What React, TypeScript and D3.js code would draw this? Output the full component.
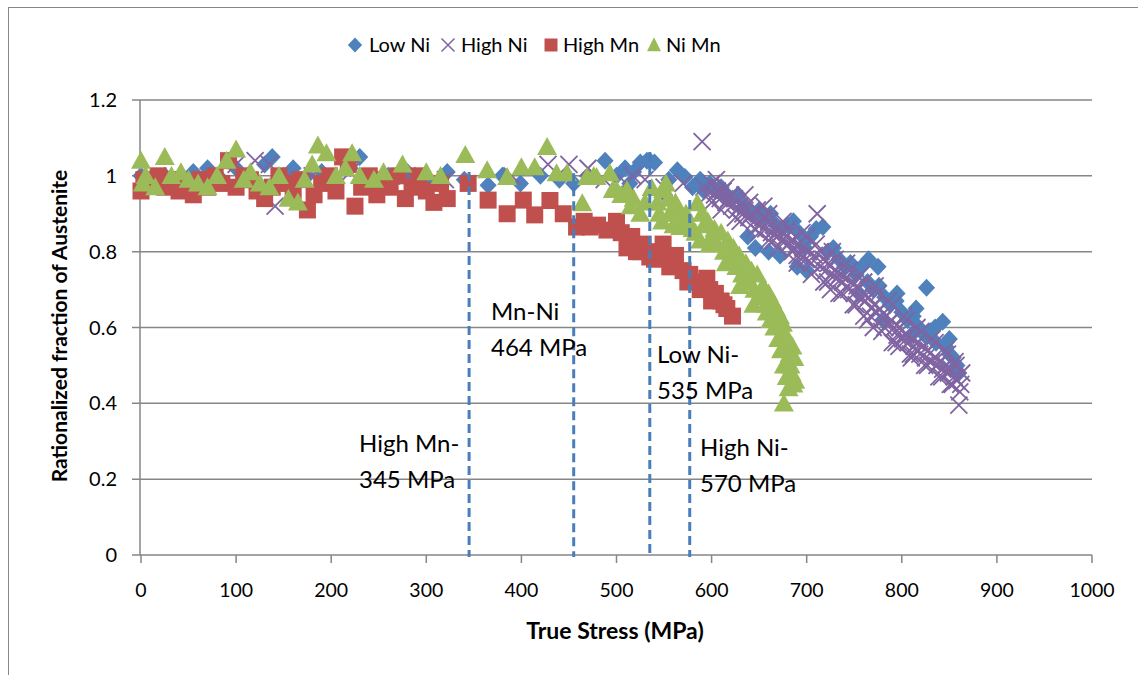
import React from "react";
import * as d3 from "d3";

// ---- axis ticks ----
const xTicks = [0, 100, 200, 300, 400, 500, 600, 700, 800, 900, 1000];
const yTicks = [0, 0.2, 0.4, 0.6, 0.8, 1, 1.2];
const yTickLabels = ["0", "0.2", "0.4", "0.6", "0.8", "1", "1.2"];

// ---- series (True Stress MPa, rationalized fraction) ----
const lowNi: [number, number][] = [
  [0, 1.0], [12, 0.99], [25, 1.0], [40, 0.98], [55, 1.01], [70, 1.02], [85, 0.99], [100, 1.02],
  [115, 1.0], [130, 1.03], [138, 1.05], [150, 1.0], [160, 1.02], [175, 1.0], [190, 1.01], [205, 0.99],
  [220, 1.02], [230, 1.05], [245, 0.99], [260, 1.0], [280, 1.01], [300, 0.99], [322, 1.01], [340, 0.99],
  [365, 0.975], [380, 1.0], [399, 0.98], [420, 1.0], [440, 0.99], [455, 0.98], [470, 1.0], [488, 1.04],
  [500, 1.0], [509, 1.02], [514, 0.98], [518, 1.01], [525, 1.035], [532, 1.04], [535, 1.04], [540, 1.035],
  [549, 0.957], [555, 0.99], [564, 1.015], [572, 0.997], [580, 0.97], [588, 0.99], [592, 0.96],
  [598, 0.98], [604, 0.96], [610, 0.97], [616, 0.95], [622, 0.94], [628, 0.95], [634, 0.92], [638, 0.84],
  [642, 0.9], [646, 0.81], [650, 0.91], [656, 0.89], [660, 0.8], [662, 0.9], [668, 0.87], [672, 0.79],
  [674, 0.86], [680, 0.87], [686, 0.88], [690, 0.76], [692, 0.85], [698, 0.81], [700, 0.75], [704, 0.84],
  [710, 0.86], [717, 0.865], [722, 0.8], [728, 0.81], [734, 0.78], [740, 0.76], [746, 0.77], [752, 0.74],
  [755, 0.69], [758, 0.76], [764, 0.72], [765, 0.78], [770, 0.7], [775, 0.76], [776, 0.71], [780, 0.62],
  [782, 0.68], [788, 0.66], [794, 0.67], [795, 0.69], [800, 0.64], [806, 0.62], [810, 0.58], [812, 0.63],
  [815, 0.65], [818, 0.6], [824, 0.58], [826, 0.705], [830, 0.59], [835, 0.6], [836, 0.56], [843, 0.615],
  [846, 0.55], [850, 0.57], [850, 0.53], [854, 0.52], [858, 0.5], [860, 0.48],
];

const highNi: [number, number][] = [
  [100, 1.03], [120, 1.04], [135, 1.03], [141, 0.92], [150, 0.99], [180, 1.0], [220, 1.01], [280, 1.0],
  [320, 0.99], [390, 1.0], [428, 1.03], [450, 1.03], [470, 1.02], [487, 0.99], [510, 0.98], [517, 1.0],
  [530, 0.99], [550, 0.97], [570, 0.98], [590, 1.09],
  [592, 0.97], [596, 0.95], [600, 0.98], [603, 0.95], [606, 0.96], [609, 0.94], [612, 0.96], [615, 0.93],
  [618, 0.94], [621, 0.92], [624, 0.94], [627, 0.91], [630, 0.92], [633, 0.9], [636, 0.92], [639, 0.89],
  [642, 0.9], [645, 0.88], [648, 0.91], [651, 0.87], [654, 0.89], [657, 0.86], [660, 0.88], [663, 0.85],
  [666, 0.86], [669, 0.84], [672, 0.86], [675, 0.83], [678, 0.84], [681, 0.82], [684, 0.83], [687, 0.81],
  [690, 0.82], [693, 0.79], [696, 0.81], [699, 0.78], [702, 0.8], [705, 0.77], [708, 0.79], [711, 0.9],
  [714, 0.76], [717, 0.78], [720, 0.75], [723, 0.77], [726, 0.74], [729, 0.75], [732, 0.73], [735, 0.74],
  [738, 0.72], [741, 0.73], [744, 0.7], [747, 0.72], [750, 0.69], [753, 0.71], [756, 0.68], [759, 0.69],
  [762, 0.67], [765, 0.68], [768, 0.65], [771, 0.66], [774, 0.64], [777, 0.65], [780, 0.62], [783, 0.63],
  [786, 0.61], [789, 0.62], [792, 0.6], [795, 0.58], [798, 0.6], [801, 0.57], [804, 0.58], [807, 0.56],
  [810, 0.57], [813, 0.55], [816, 0.56], [819, 0.53], [822, 0.55], [825, 0.52], [828, 0.54], [831, 0.51],
  [834, 0.52], [837, 0.5], [840, 0.51], [843, 0.49], [846, 0.5], [849, 0.48], [852, 0.49], [855, 0.47],
  [858, 0.46], [860, 0.395], [862, 0.45], [660, 0.83], [690, 0.77], [725, 0.7], [760, 0.63], [770, 0.6],
  [790, 0.56], [810, 0.52],
  [600, 0.93], [605, 0.99], [610, 0.91], [615, 0.97], [620, 0.95], [625, 0.89], [630, 0.88], [635, 0.95],
  [640, 0.93], [645, 0.86], [650, 0.85], [655, 0.92], [660, 0.9], [665, 0.83], [670, 0.81], [675, 0.88],
  [680, 0.86], [685, 0.8], [690, 0.79], [695, 0.85], [700, 0.84], [705, 0.74], [710, 0.82], [715, 0.8],
  [718, 0.72], [722, 0.72], [727, 0.8], [730, 0.78], [734, 0.69], [737, 0.69], [742, 0.77], [745, 0.75],
  [749, 0.66], [752, 0.66], [757, 0.74], [760, 0.72], [764, 0.62], [767, 0.63], [772, 0.71], [775, 0.69],
  [779, 0.59], [782, 0.6], [786, 0.67], [790, 0.66], [794, 0.56], [797, 0.55], [802, 0.63], [805, 0.62],
  [809, 0.53], [812, 0.53], [816, 0.6], [820, 0.59], [824, 0.5], [827, 0.5], [832, 0.57], [835, 0.56],
  [839, 0.47], [842, 0.47], [846, 0.54], [848, 0.53], [851, 0.45], [853, 0.45], [856, 0.51], [857, 0.5],
  [861, 0.43], [863, 0.48],
];

const highMn: [number, number][] = [
  [0, 0.96], [3, 0.99], [10, 0.98], [18, 1.0], [25, 0.97], [32, 0.99], [40, 0.96], [48, 0.98],
  [55, 0.95], [62, 0.99], [70, 0.97], [78, 1.0], [85, 0.98], [92, 1.04], [100, 0.97], [108, 1.0],
  [115, 0.99], [122, 0.96], [130, 0.94], [138, 0.97], [145, 1.0], [152, 0.98], [160, 0.96], [168, 0.99],
  [175, 0.91], [182, 0.95], [190, 0.98], [198, 1.0], [205, 0.96], [212, 1.05], [218, 1.03], [225, 0.92],
  [232, 0.97], [240, 1.0], [248, 0.95], [255, 0.99], [262, 0.97], [270, 1.0], [278, 0.94], [285, 0.97],
  [292, 1.0], [300, 0.96], [308, 0.93], [315, 0.98], [322, 0.94], [344, 0.98], [365, 0.936], [385, 0.9],
  [402, 0.936], [414, 0.897], [430, 0.935], [444, 0.9], [458, 0.865], [466, 0.88], [472, 0.865], [480, 0.87],
  [490, 0.857], [500, 0.88], [500, 0.86], [505, 0.85], [511, 0.81], [515, 0.83], [516, 0.84], [521, 0.8],
  [525, 0.8], [528, 0.82], [535, 0.786], [540, 0.78], [542, 0.8], [549, 0.82], [550, 0.79], [556, 0.76],
  [560, 0.77], [562, 0.79], [570, 0.75], [575, 0.72], [577, 0.74], [584, 0.72], [588, 0.7], [591, 0.71],
  [595, 0.73], [598, 0.7], [600, 0.67], [604, 0.69], [610, 0.67], [613, 0.66], [616, 0.65], [622, 0.63],
];

const niMn: [number, number][] = [
  [0, 1.04], [2, 0.98], [5, 1.0], [15, 0.97], [25, 1.05], [32, 1.0], [42, 1.01], [50, 0.99],
  [60, 0.98], [70, 0.97], [80, 1.0], [90, 1.04], [100, 1.07], [108, 0.99], [115, 1.01], [125, 0.98],
  [135, 0.97], [145, 1.0], [155, 0.94], [165, 0.93], [172, 0.99], [180, 1.03], [186, 1.08], [195, 1.06],
  [205, 1.0], [215, 1.02], [222, 1.06], [230, 1.0], [245, 0.99], [255, 1.01], [275, 1.03], [300, 1.01],
  [315, 1.0], [341, 1.055], [364, 1.015], [385, 0.997], [400, 1.023], [414, 1.023], [427, 1.076], [437, 1.007],
  [448, 1.007], [464, 0.928], [469, 0.997], [476, 1.0], [479, 0.997], [493, 1.007], [496, 0.963], [500, 0.963],
  [505, 0.95], [511, 0.963], [515, 0.92], [518, 0.94], [525, 0.9], [530, 0.93], [537, 0.968], [543, 0.93],
  [545, 0.9], [548, 0.88], [549, 0.963], [552, 0.98], [555, 0.94], [556, 0.9], [560, 0.87], [562, 0.93],
  [565, 0.91], [567, 0.865], [573, 0.9], [575, 0.88], [580, 0.86], [583, 0.85], [585, 0.928], [588, 0.83],
  [590, 0.9], [592, 0.87], [598, 0.82],
  [596, 0.88], [600, 0.84], [603, 0.86], [606, 0.82], [610, 0.85], [613, 0.8], [617, 0.83], [620, 0.78],
  [623, 0.81], [626, 0.76], [629, 0.79], [632, 0.74], [636, 0.77], [639, 0.72], [642, 0.75], [645, 0.7],
  [648, 0.74], [651, 0.68], [654, 0.71], [657, 0.66], [660, 0.69], [662, 0.62], [664, 0.67], [666, 0.6],
  [668, 0.65], [670, 0.57], [672, 0.63], [673, 0.54], [675, 0.61], [676, 0.5], [678, 0.58], [679, 0.47],
  [680, 0.56], [681, 0.44], [682, 0.53], [683, 0.5], [684, 0.48], [685, 0.55], [686, 0.45], [687, 0.52],
  [688, 0.46], [676, 0.4], [658, 0.64], [644, 0.66], [630, 0.71], [615, 0.77],
];

// ---- annotation dashed lines ----
const markerStress = [345, 455, 535, 577];
const markerTop = [1.01, 1.007, 1.063, 0.936];
const markerText = [
  ["High Mn-", "345 MPa"],
  ["Mn-Ni", "464 MPa"],
  ["Low Ni-", "535 MPa"],
  ["High Ni-", "570 MPa"],
];

const seriesNames = ["Low Ni", "High Ni", "High Mn", "Ni Mn"];

const COLORS = {
  lowNi: "#4F81BD",
  highNi: "#8064A2",
  highMn: "#C0504D",
  niMn: "#9BBB59",
};

const W = 1138;
const H = 675;
const FONT = "Lato, 'Open Sans', sans-serif";

export default function App() {
  const x = d3.scaleLinear().domain([0, 1000]).range([141, 1092]);
  const y = d3.scaleLinear().domain([0, 1.2]).range([555, 100]);
  const grid = "#868686";

  const diamond = (cx: number, cy: number, r: number) =>
    `M${cx},${cy - r}L${cx + r * 0.95},${cy}L${cx},${cy + r}L${cx - r * 0.95},${cy}Z`;
  const square = (cx: number, cy: number, s: number) =>
    `M${cx - s / 2},${cy - s / 2}h${s}v${s}h${-s}Z`;
  const tri = (cx: number, cy: number, w: number, h: number) =>
    `M${cx},${cy - h * 0.55}L${cx + w / 2},${cy + h * 0.45}L${cx - w / 2},${cy + h * 0.45}Z`;
  const cross = (cx: number, cy: number, r: number) =>
    `M${cx - r},${cy - r}L${cx + r},${cy + r}M${cx + r},${cy - r}L${cx - r},${cy + r}`;

  const textAnn = [
    { x: 359, y: 452 },
    { x: 491, y: 320 },
    { x: 657, y: 363 },
    { x: 700, y: 456 },
  ];

  const legendItems = [
    { mx: 355, tx: 369 },
    { mx: 448, tx: 461 },
    { mx: 551, tx: 563 },
    { mx: 654, tx: 666 },
  ];

  return (
    <svg
      width={W}
      height={H}
      style={{ position: "absolute", left: 0, top: 0, background: "#fff" }}
      fontFamily={FONT}
    >
      {/* outer chart border */}
      <rect x={8.5} y={7.5} width={1140} height={700} fill="#fff" stroke="#878787" strokeWidth={1} />

      {/* gridlines */}
      {yTicks.map((t, i) => (
        <g key={"gy" + i}>
          <line x1={132} x2={1092} y1={y(t)} y2={y(t)} stroke={grid} strokeWidth={1.5} />
          <text x={117} y={y(t)} dy="0.35em" textAnchor="end" fontSize={20} fill="#000">
            {yTickLabels[i]}
          </text>
        </g>
      ))}
      {/* y axis line */}
      <line x1={140} x2={140} y1={y(1.2)} y2={y(0)} stroke={grid} strokeWidth={1.5} />
      {/* x ticks */}
      {xTicks.map((t) => (
        <g key={"gx" + t}>
          <line x1={x(t)} x2={x(t)} y1={555} y2={563} stroke={grid} strokeWidth={1.5} />
          <text x={x(t)} y={597} textAnchor="middle" fontSize={19.5} fill="#000">
            {t}
          </text>
        </g>
      ))}

      {/* axis titles */}
      <text x={615} y={639} textAnchor="middle" fontSize={23} fontWeight="bold">
        True Stress (MPa)
      </text>
      <text
        transform={`translate(67,${326}) rotate(-90)`}
        textAnchor="middle"
        fontSize={21}
        fontWeight="bold"
      >
        Rationalized fraction of Austenite
      </text>

      {/* series */}
      <g>
        {lowNi.map(([a, b], i) => (
          <path key={"ln" + i} d={diamond(x(a), y(b), 9)} fill={COLORS.lowNi} />
        ))}
      </g>
      <g>
        {highNi.map(([a, b], i) => (
          <path
            key={"hn" + i}
            d={cross(x(a), y(b), 8.5)}
            stroke={COLORS.highNi}
            strokeWidth={1.8}
            fill="none"
          />
        ))}
      </g>
      <g>
        {highMn.map(([a, b], i) => (
          <path key={"hm" + i} d={square(x(a), y(b), 17)} fill={COLORS.highMn} />
        ))}
      </g>
      <g>
        {niMn.map(([a, b], i) => (
          <path key={"nm" + i} d={tri(x(a), y(b), 20, 18)} fill={COLORS.niMn} />
        ))}
      </g>

      {/* dashed annotation lines */}
      {markerStress.map((s, i) => (
        <line
          key={"dl" + i}
          x1={x(s)}
          x2={x(s)}
          y1={y(markerTop[i])}
          y2={y(-0.005)}
          stroke="#4A7EBB"
          strokeWidth={3}
          strokeDasharray="9,5"
        />
      ))}

      {/* annotation text */}
      {markerText.map((lines, i) => (
        <text key={"at" + i} x={textAnn[i].x} y={textAnn[i].y} fontSize={24} fill="#000">
          <tspan x={textAnn[i].x}>{lines[0]}</tspan>
          <tspan x={textAnn[i].x} dy={36}>
            {lines[1]}
          </tspan>
        </text>
      ))}

      {/* legend */}
      {seriesNames.map((n, i) => {
        const L = legendItems[i];
        const cy = 45;
        let m: React.ReactNode = null;
        if (i === 0) m = <path d={diamond(L.mx, cy, 7.5)} fill={COLORS.lowNi} />;
        if (i === 1)
          m = (
            <path d={cross(L.mx, cy, 6.5)} stroke={COLORS.highNi} strokeWidth={1.5} fill="none" />
          );
        if (i === 2) m = <path d={square(L.mx, cy, 13)} fill={COLORS.highMn} />;
        if (i === 3) m = <path d={tri(L.mx, cy, 14, 14)} fill={COLORS.niMn} />;
        return (
          <g key={"lg" + i}>
            {m}
            <text x={L.tx} y={cy} dy="0.35em" fontSize={20} fill="#000">
              {n}
            </text>
          </g>
        );
      })}
    </svg>
  );
}
